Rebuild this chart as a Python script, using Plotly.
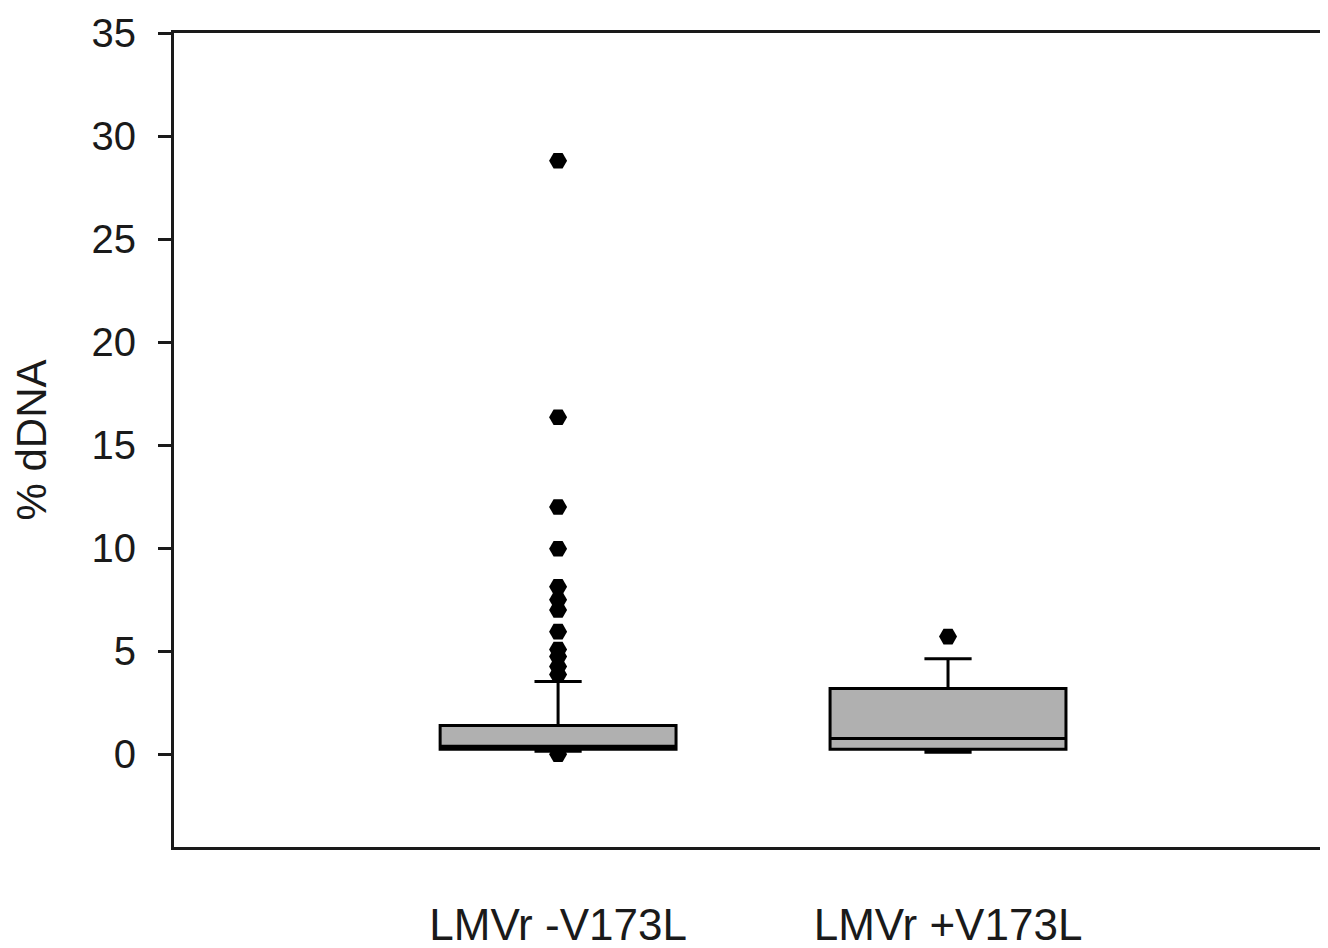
import plotly.graph_objects as go

categories = ["LMVr -V173L", "LMVr +V173L"]
q1 = [0.24, 0.24]
median = [0.39, 0.77]
q3 = [1.40, 3.19]
lower_fence = [0.15, 0.10]
upper_fence = [3.53, 4.64]

outliers_1 = [28.8, 16.35, 12.0, 9.97, 8.13, 7.5, 7.0, 5.95, 5.08, 4.74, 4.26, 3.87, 0.0]
outliers_2 = [5.71]

y_ticks = [0, 5, 10, 15, 20, 25, 30, 35]

fig = go.Figure()
fig.add_trace(go.Box(
    x=categories, q1=q1, median=median, q3=q3,
    lowerfence=lower_fence, upperfence=upper_fence,
    width=0.605, whiskerwidth=0.2,
    fillcolor="#b0b0b0",
    line=dict(color="black", width=3),
    boxpoints=False, showlegend=False, hoverinfo="skip",
))
fig.add_trace(go.Scatter(
    x=[categories[0]] * len(outliers_1) + [categories[1]] * len(outliers_2),
    y=outliers_1 + outliers_2,
    mode="markers",
    marker=dict(symbol="hexagon2", size=18, color="black"),
    showlegend=False, cliponaxis=False,
))

fig.update_layout(
    width=1328, height=948,
    margin=dict(l=166, r=0, t=25, b=109),
    paper_bgcolor="white", plot_bgcolor="white",
    font=dict(family="Liberation Sans, Arial, sans-serif", color="#1a1a1a"),
    xaxis=dict(
        type="category", range=[-0.985, 1.995], automargin=False,
        showline=True, linecolor="#1a1a1a", linewidth=3, mirror=True,
        ticks="", showgrid=False, zeroline=False,
        tickfont=dict(size=44), ticklabelstandoff=37,
    ),
    yaxis=dict(
        range=[-4.5, 35], tickvals=y_ticks, automargin=False,
        showline=True, linecolor="#1a1a1a", linewidth=3, mirror=False,
        ticks="outside", ticklen=13, tickwidth=3, tickcolor="#1a1a1a",
        showgrid=False, zeroline=False,
        tickfont=dict(size=40), ticklabelstandoff=14,
        title=dict(text="% dDNA", font=dict(size=42), standoff=32),
    ),
)

fig.write_html("out.html")
